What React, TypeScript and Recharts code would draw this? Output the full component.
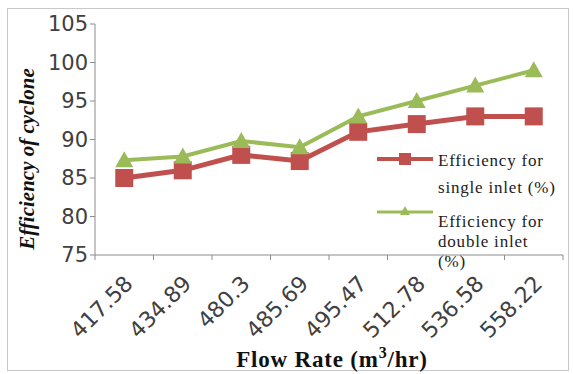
import React from 'react';
import { LineChart, Line, XAxis, YAxis, Label } from 'recharts';

const flowRates = ['417.58', '434.89', '480.3', '485.69', '495.47', '512.78', '536.58', '558.22'];
const singleInlet = [85, 86, 88, 87.2, 91, 92, 93, 93];
const doubleInlet = [87.3, 87.8, 89.8, 89, 93, 95, 97, 99];
const yTicks = [75, 80, 85, 90, 95, 100, 105];

const WIDTH = 573;
const HEIGHT = 374;
const MARGIN = { top: 24, right: 10, bottom: 0, left: 0 };
const Y_AXIS_W = 95;
const X_AXIS_H = 119;
const BAND = (WIDTH - MARGIN.left - MARGIN.right - Y_AXIS_W) / flowRates.length;

const RED = '#c0504d';
const GREEN = '#9bbb59';
const AXIS = '#8c8c8c';
const TEXT = '#404040';

// x positions sit in the middle of each category band
const data = flowRates.map((rate, i) => ({
  x: i + 0.5,
  rate,
  single: singleInlet[i],
  double: doubleInlet[i],
}));

const boundaryTicks = flowRates.map((_, i) => i).concat(flowRates.length);

function FlowTick({ x, y, payload }: any) {
  const label = flowRates[payload.value];
  if (!label) return null;
  const cx = x + BAND / 2 + 10;
  const cy = y + 23;
  return (
    <text
      x={cx}
      y={cy}
      textAnchor="end"
      fill={TEXT}
      fontSize={22}
      fontFamily="DejaVu Sans, sans-serif"
      transform={`rotate(-45 ${cx} ${cy})`}
    >
      {label}
    </text>
  );
}

function SquareDot({ cx, cy }: any) {
  return <rect x={cx - 9} y={cy - 9} width={18} height={18} fill={RED} />;
}

function TriangleDot({ cx, cy }: any) {
  return <polygon points={`${cx},${cy - 9} ${cx - 9},${cy + 7} ${cx + 9},${cy + 7}`} fill={GREEN} />;
}

// legend drawn over the right part of the plot, no background
function LegendBox() {
  const txt = {
    fontFamily: 'Liberation Serif, serif',
    fontSize: 17,
    letterSpacing: 0.8,
    fill: '#222',
  };
  return (
    <svg
      width={WIDTH}
      height={HEIGHT}
      style={{ position: 'absolute', left: 0, top: 0, pointerEvents: 'none' }}
    >
      <line x1={377} y1={159} x2={433} y2={159} stroke={RED} strokeWidth={4} />
      <rect x={399} y={153} width={12} height={12} fill={RED} />
      <text x={438} y={166} {...txt}>Efficiency for</text>
      <text x={438} y={193} {...txt}>single inlet (%)</text>
      <line x1={377} y1={212} x2={433} y2={212} stroke={GREEN} strokeWidth={3} />
      <polygon points="405,206 400,215 410,215" fill={GREEN} />
      <text x={438} y={227} {...txt}>Efficiency for</text>
      <text x={438} y={247} {...txt}>double inlet</text>
      <text x={438} y={267} {...txt}>(%)</text>
    </svg>
  );
}

export default function App() {
  return (
    <div style={{ position: 'absolute', left: 0, top: 0, width: WIDTH, height: HEIGHT, background: '#fff' }}>
      <div
        style={{
          position: 'absolute',
          left: 7,
          top: 8,
          width: 560,
          height: 361,
          border: '1px solid #c8c8c8',
        }}
      />
      <LineChart width={WIDTH} height={HEIGHT} data={data} margin={MARGIN}>
        <XAxis
          dataKey="x"
          type="number"
          domain={[0, flowRates.length]}
          ticks={boundaryTicks}
          interval={0}
          height={X_AXIS_H}
          stroke={AXIS}
          tickSize={5}
          tick={<FlowTick />}
        >
          <Label
            content={() => (
              <text
                x={332}
                y={367}
                textAnchor="middle"
                fontFamily="Liberation Serif, serif"
                fontWeight="bold"
                fontSize={23}
                letterSpacing={0.8}
                fill="#111"
              >
                Flow Rate (m
                <tspan dy={-9} fontSize={16}>3</tspan>
                <tspan dy={9}>/hr)</tspan>
              </text>
            )}
          />
        </XAxis>
        <YAxis
          domain={[75, 105]}
          ticks={yTicks}
          interval={0}
          width={Y_AXIS_W}
          stroke={AXIS}
          tickSize={5}
          tick={{ fill: TEXT, fontSize: 21, fontFamily: 'DejaVu Sans, sans-serif' }}
        >
          <Label
            content={() => (
              <text
                x={34}
                y={159}
                textAnchor="middle"
                fontFamily="Liberation Serif, serif"
                fontWeight="bold"
                fontStyle="italic"
                fontSize={21}
                fill="#111"
                transform="rotate(-90 34 159)"
              >
                Efficiency of cyclone
              </text>
            )}
          />
        </YAxis>
        <Line
          dataKey="single"
          name="Efficiency for single inlet (%)"
          stroke={RED}
          strokeWidth={5}
          dot={<SquareDot />}
          activeDot={false}
          isAnimationActive={false}
        />
        <Line
          dataKey="double"
          name="Efficiency for double inlet (%)"
          stroke={GREEN}
          strokeWidth={4}
          dot={<TriangleDot />}
          activeDot={false}
          isAnimationActive={false}
        />
      </LineChart>
      <LegendBox />
    </div>
  );
}
